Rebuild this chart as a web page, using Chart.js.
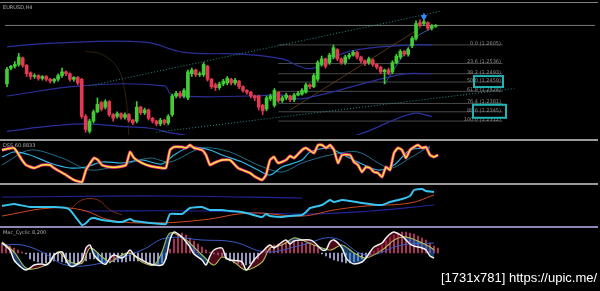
<!DOCTYPE html>
<html>
<head>
<meta charset="utf-8">
<script src="https://cdn.jsdelivr.net/npm/chart.js@4"></script>
<style>
body { margin: 0; background: #000; width: 600px; height: 291px; overflow: hidden; position: relative; font-family: "DejaVu Sans", sans-serif; }
canvas { position: absolute; left: 0; }
.sep { position: absolute; left: 0; width: 598px; height: 2px; background: #9a9a9a; }
.ttl { position: absolute; left: 3px; font-size: 5px; color: #b0b0b0; white-space: nowrap; }
#wm { position: absolute; left: 441px; top: 270px; font: 13px "Liberation Sans", sans-serif; color: #fff; }
</style>
</head>
<body>
<div class="sep" style="top:2px;height:1px;background:#808080"></div>
<canvas id="main" width="600" height="140" style="top:0"></canvas>
<canvas id="dss" width="600" height="43" style="top:141px"></canvas>
<canvas id="trend" width="600" height="42" style="top:185px"></canvas>
<canvas id="macd" width="600" height="47" style="top:228px"></canvas>
<div class="sep" style="top:139px"></div>
<div class="sep" style="top:183px"></div>
<div class="sep" style="top:226px;background:#8c88b0"></div>
<div class="ttl" style="top:4px">EURUSD,H4</div>
<div class="ttl" style="top:142px">DSS 60.8833</div>
<div class="ttl" style="top:229px">Mac_Cyclic 8,200</div>
<div id="wm">[1731x781] https://upic.me/</div>
<script>
// candles (index 0..109), price units
const candleOpen = [55,72,74,76,83,75,67,63,64,61, 63,60,58,60,64,68,66,60,62,60, 20,4,15,25,35,30,36,22,20,23,
  19,22,16,15,30,24,27,18,15,12, 16,13,22,42,45,42,40,66,70,65, 65,74,60,54,51,55,56,60,56,58,
  52,48,46,42,42,32,28,39,32,46, 37,40,42,38,43,44,46,54,52,60, 76,82,78,84,92,82,78,84,86,89,
  84,80,78,81,76,73,68,70,68,78, 84,90,87,96,104,121,120,121,115,117];
const candleClose = [71,74,76,84,75,66,63,64,61,63, 60,58,60,64,68,66,60,62,56,20, 6,15,25,33,28,36,22,18,23,19,
  22,16,13,30,24,27,18,15,12,16, 13,20,42,45,42,48,68,70,65,66, 76,60,52,51,55,58,61,56,59,52,
  48,46,42,40,30,26,40,42,48,37, 40,43,38,43,45,48,54,52,64,78, 82,74,86,94,82,78,84,86,89,84,
  80,77,82,76,73,68,70,67,78,85, 90,87,92,104,120,118,122,115,117,118];
const candleHigh = [73,75,79,88,84,76,68,66,65,64, 64,61,61,66,72,69,67,63,63,61, 22,17,27,40,36,38,37,23,25,24,
  24,23,17,36,31,29,28,19,16,18, 17,22,44,47,47,50,70,72,71,68, 78,75,61,56,57,60,63,61,61,59,
  53,49,47,43,43,33,42,44,50,47, 42,45,43,45,47,50,56,55,66,80, 85,83,88,97,93,83,86,88,91,90,
  85,81,84,82,77,74,71,72,80,87, 92,91,94,106,123,124,124,122,119,119];
const candleLow = [52,70,72,74,73,63,60,61,59,59, 58,56,56,58,62,64,58,58,54,18, 3,2,13,24,26,28,20,15,18,17,
  17,14,11,13,22,22,16,13,10,10, 11,11,20,40,40,40,38,63,63,63, 63,58,50,48,49,53,54,54,54,50,
  46,44,40,37,27,22,26,37,30,35, 35,38,36,36,42,43,45,50,51,58, 74,72,76,82,80,76,76,82,85,82,
  78,75,76,74,71,66,55,65,66,77, 82,85,85,94,102,116,118,113,113,116];

const upperBand = [[0,95],[12,99],[35,100],[45,89],[60,87],[70,82],[75,73],[78,72],[87,90],[103,97],[108,97]];
const middleBand = [[0,42],[19,53],[40,53],[42,43],[62,42],[70,43],[75,39],[100,65],[108,66]];
const lowerBand = [[0,4],[12,10],[20,12],[30,9],[37,7],[42,2],[60,-8],[80,-6],[89,0],[103,23],[108,20]];
const channelUpper = [[21,53],[110,133]];
const channelLower = [[38,3],[129,50]];
const trendOrange = [[72,27],[105,115]];
const trendBlue = [[96,55],[104,105],[108,115]];
const curveBrown = [[20,90],[24,87],[28,73],[30,47],[31,0]];
const lastPrice = 118;
const arrowPoint = [106, 127];

const fibLevels = [97, 77, 66, 57, 47, 34, 25, 15];
const fibLabels = ['0.0 (1.2605)', '23.6 (1.2536)', '38.2 (1.2493)', '50.0 (1.2459)', '61.8 (1.2424)', '76.4 (1.2381)', '88.6 (1.2345)', '100.0 (1.2312)'];
const fibStart = 69, fibEnd = 126;

// panel 2
const dssMain = [[0,32],[3,34],[5,22],[6,17],[8,14],[10,17],[12,17],[13,14],[16,7],[18,2],[20,0],[21,12],[23,24],[24,22],
  [25,17],[27,15],[29,15],[31,17],[32,30],[33,24],[35,19],[37,16],[40,14],[41,14],[42,32],[43,35],[45,35],[46,34],
  [47,37],[48,34],[50,32],[51,27],[52,17],[53,19],[55,22],[57,22],[59,14],[62,9],[63,6],[65,2],[66,7],[67,22],[68,25],
  [69,19],[71,22],[72,26],[73,24],[75,32],[76,34],[78,29],[79,37],[80,37],[81,34],[82,37],[83,32],[84,19],[85,27],
  [87,27],[88,20],[89,17],[90,10],[91,15],[92,14],[93,10],[94,9],[95,5],[96,15],[97,12],[98,29],[99,34],[100,32],
  [101,24],[102,32],[103,35],[104,37],[105,34],[106,35],[107,27],[108,25],[109,27]];
const dssSignal = [[0,25],[3,30],[7,27],[12,19],[17,14],[21,15],[25,20],[30,19],[35,22],[40,18],[43,27],[47,35],[52,32],
  [55,27],[60,20],[64,12],[67,7],[70,15],[75,22],[77,30],[82,34],[84,30],[89,20],[94,12],[98,17],[102,32],[107,34]];
const dssSlow = [[0,17],[7,32],[15,24],[22,12],[30,17],[37,24],[42,20],[50,34],[57,30],[64,17],[70,10],[75,19],
  [82,27],[89,30],[97,14],[102,24],[107,36]];

// panel 3
const trendFast = [[0,21],[3,23],[7,20],[12,20],[13,20],[16,19],[17,17],[18,12],[20,2],[21,4],[22,8],[23,9],[25,7],
  [27,6],[30,5],[32,8],[33,6],[35,5],[37,4],[40,3],[41,3],[42,13],[45,13],[47,19],[50,20],[52,17],[55,17],[57,16],
  [60,15],[62,13],[65,10],[66,13],[67,11],[70,10],[72,11],[75,12],[76,15],[77,19],[80,22],[82,27],[83,25],[85,27],
  [87,26],[90,24],[92,23],[95,22],[97,25],[100,28],[102,31],[103,37],[105,38],[106,36],[108,35]];
const trendSlow = [[0,11],[12,19],[20,17],[27,7],[37,4],[50,7],[62,14],[75,11],[83,17],[91,21],[102,24],[108,32]];
const trendHump = [[17,17],[20,27],[24,27],[27,17],[30,12]];
const trendBase1 = [[0,30],[40,31],[75,29]];
const trendBase2 = [[20,16],[50,16],[75,13],[92,16],[108,22]];

// panel 4
const macdHist = [10,9,7,5,3,1,-1, -6,-8,-9,-10,-10,-9,-8,-8,-9,-10,-11,-11,-11,
  -10,-8,-6,-6,-7,-9,-10,-10,-9,-9,-9,-9,-8,-8,-8,-9,-10,-11,-11,-11,-10,-6,
  4,14,19,20,18,15,12,9,6,3,1,-1,-2, -4,-6,-8,-10,-11,-12,-12,-11,-9,-6,
  2,4,6,8,9,10,11,12,12,12,11,10,9,8,6, -1,-3,-5,-7,-8,-9,-10,-10,-9,-8,-6,-4,-2,
  2,5,8,12,15,18,20,21,21,20,19,17,15,13,10,7,5];
const macdMain = [[0,10],[2,3],[3,-7],[5,-15],[6,-17],[7,-15],[8,-12],[10,-11],[11,-12],[12,-9],[13,-2],[15,1],[16,-7],
  [17,-13],[18,-13],[20,-7],[21,5],[22,8],[23,-2],[25,-10],[26,-11],[27,-5],[28,-2],[30,-5],[31,-2],[32,3],[33,-2],
  [35,-7],[37,-11],[40,-12],[41,-5],[42,13],[43,21],[45,16],[46,11],[47,6],[48,-1],[50,-7],[51,-12],[52,-3],[53,3],
  [55,5],[56,-5],[57,-7],[60,-9],[61,-17],[62,-13],[63,-7],[65,1],[67,8],[68,5],[70,11],[71,13],[72,9],[73,12],
  [75,13],[77,13],[78,11],[80,3],[81,3],[82,11],[83,13],[85,5],[86,-5],[87,-9],[88,-11],[90,-9],[91,-5],[92,1],
  [93,6],[95,10],[96,15],[97,19],[98,21],[100,17],[101,13],[102,9],[103,7],[105,5],[106,3],[107,-3],[108,-5]];
const macdSignal = [[0,11],[3,1],[6,-15],[9,-15],[12,-9],[14,1],[17,-9],[20,-10],[22,5],[25,-4],[27,-9],[29,-4],[32,0],
  [35,-9],[38,-12],[40,1],[42,20],[46,13],[50,-2],[53,-12],[55,-4],[58,-9],[61,-17],[65,-9],[67,5],[70,8],[73,15],
  [75,13],[78,8],[82,3],[85,8],[88,0],[91,-5],[95,3],[98,13],[100,16],[102,15],[105,10],[107,6],[108,3]];
const macdSlow = [[0,8],[5,8],[10,1],[16,-12],[25,-10],[35,3],[41,15],[50,13],[58,11],[66,1],[75,8],[83,15],[91,-2],[100,8],[108,10]];

const green = '#43cc35', red = '#e23a55';
const idx = candleOpen.map((v, i) => i);

function pts(arr) { return arr.map(p => ({ x: p[0], y: p[1] })); }
function lineSet(arr, color, width, extra) {
  return Object.assign({ type: 'line', data: pts(arr), borderColor: color, borderWidth: width,
    pointRadius: 0, fill: false, tension: 0.3 }, extra || {});
}
function baseOptions(ymin, ymax) {
  return {
    responsive: false, animation: false, devicePixelRatio: 1,
    layout: { padding: 0 },
    plugins: { legend: { display: false }, tooltip: { enabled: false } },
    scales: {
      x: { type: 'linear', min: -0.5, max: 149.5, offset: false, display: false },
      y: { min: ymin, max: ymax, display: false }
    }
  };
}
const candleColor = ctx => candleClose[ctx.dataIndex] >= candleOpen[ctx.dataIndex] ? green : red;

const fibPlugin = {
  id: 'fib',
  afterDatasetsDraw(chart) {
    const c = chart.ctx, y = chart.scales.y;
    c.save();
    c.font = '5px "DejaVu Sans"';
    c.fillStyle = '#8a8a8a';
    c.textAlign = 'right';
    c.textBaseline = 'bottom';
    fibLevels.forEach((lv, i) => {
      c.fillText(fibLabels[i], 501, y.getPixelForValue(lv) + 1);
    });
    c.strokeStyle = '#1fb5b5';
    c.lineWidth = 2;
    let yy = y.getPixelForValue(fibLevels[3]);
    c.strokeRect(474, yy - 6, 29, 11);
    yy = y.getPixelForValue(fibLevels[6]);
    c.strokeRect(473, yy - 7, 33, 13);
    c.restore();
  }
};

const fibSets = fibLevels.map(lv => lineSet([[fibStart, lv], [fibEnd, lv]], '#4a4a4a', 1, { tension: 0 }));

new Chart(document.getElementById('main'), {
  type: 'bar',
  data: {
    datasets: [
      { data: idx.map(i => ({ x: i, y: [candleOpen[i], candleClose[i]] })), backgroundColor: candleColor, barThickness: 3, grouped: false, order: 1 },
      { data: idx.map(i => ({ x: i, y: [candleLow[i], candleHigh[i]] })), backgroundColor: candleColor, barThickness: 1, grouped: false, order: 2 },
      lineSet([[arrowPoint[0], arrowPoint[1] + 4], arrowPoint], '#2f8fff', 1.5, { order: 0, tension: 0 }),
      { type: 'scatter', data: pts([arrowPoint]), pointStyle: 'triangle', rotation: 180, pointRadius: 3, backgroundColor: '#2f8fff', borderColor: '#2f8fff', order: 0 },
      lineSet([[-0.5, lastPrice], [149.5, lastPrice]], '#7a7a7a', 1, { order: 5, tension: 0 }),
      lineSet(upperBand, '#2b2f9a', 1.2, { order: 4, tension: 0.4 }),
      lineSet(middleBand, '#2b2f9a', 1.2, { order: 4, tension: 0.4 }),
      lineSet(lowerBand, '#2b2f9a', 1.2, { order: 4, tension: 0.4 }),
      lineSet(channelUpper, '#2a8a86', 1, { borderDash: [1, 2], order: 3, tension: 0 }),
      lineSet(channelLower, '#2a8a86', 1, { borderDash: [1, 2], order: 3, tension: 0 }),
      lineSet(trendOrange, '#6a4420', 0.8, { order: 6, tension: 0 }),
      lineSet(trendBlue, '#3a78c8', 0.8, { order: 6, tension: 0.3 }),
      lineSet(curveBrown, '#3a2a12', 0.8, { order: 6, tension: 0.4 })
    ].concat(fibSets.map(s => Object.assign(s, { order: 7 })))
  },
  options: baseOptions(0, 140),
  plugins: [fibPlugin]
});

new Chart(document.getElementById('dss'), {
  type: 'line',
  data: {
    datasets: [
      lineSet(dssMain, '#f2ec36', 1.4, { order: 0, tension: 0.15 }),
      lineSet(dssMain, '#ff2d8a', 3, { order: 1, tension: 0.15 }),
      lineSet(dssSignal, '#2fb8e8', 1.2, { order: 2 }),
      lineSet(dssSlow, '#1f6f8a', 1, { order: 3 })
    ]
  },
  options: baseOptions(-2, 41)
});

new Chart(document.getElementById('trend'), {
  type: 'line',
  data: {
    datasets: [
      lineSet(trendFast, '#38c4f0', 2, { order: 0, tension: 0.15 }),
      lineSet(trendSlow, '#d04a1c', 1, { order: 1, tension: 0.4 }),
      lineSet(trendHump, '#7a2e14', 1, { order: 2, tension: 0.4 }),
      lineSet(trendBase1, '#23239a', 1.2, { order: 3, tension: 0.4 }),
      lineSet(trendBase2, '#23239a', 1.2, { order: 3, tension: 0.4 })
    ]
  },
  options: baseOptions(0, 42)
});

new Chart(document.getElementById('macd'), {
  type: 'bar',
  data: {
    datasets: [
      { data: idx.map(i => ({ x: i, y: macdHist[i] })), backgroundColor: ctx => macdHist[ctx.dataIndex] >= 0 ? '#d23c6e' : '#b4b4e6', barThickness: 1, grouped: false, order: 4 },
      lineSet(macdMain, '#f2f2f2', 1.5, { order: 0, tension: 0.3, fill: { target: 3, above: 'rgba(140,15,45,0.55)', below: 'rgba(40,120,210,0.5)' } }),
      lineSet(macdSlow, '#3a5cc8', 1, { order: 2, tension: 0.4 }),
      lineSet(macdSignal, '#c4dc4c', 1.2, { order: 1, tension: 0.3 })
    ]
  },
  options: baseOptions(-22, 25)
});
</script>
</body>
</html>
